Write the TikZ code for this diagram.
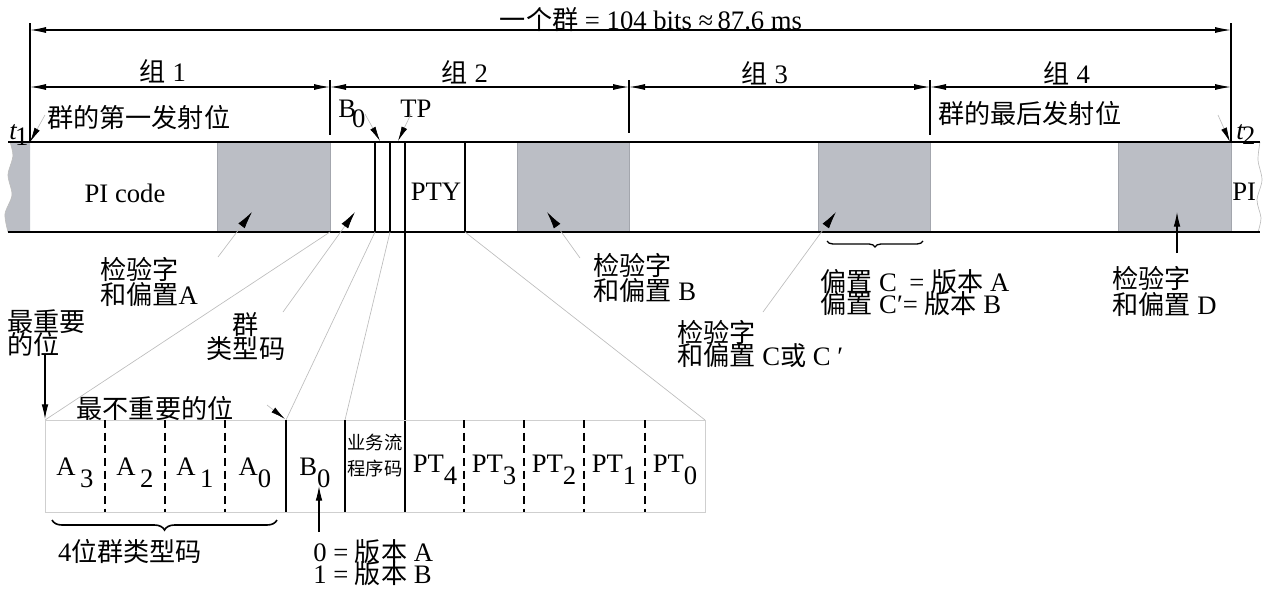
\documentclass[tikz,border=0pt]{standalone}
\usepackage{fontspec}
\setmainfont{Liberation Serif}
\newfontfamily\cjk[Scale=0.98]{Noto Sans CJK SC}
\usetikzlibrary{arrows.meta,decorations.pathreplacing}
\definecolor{boxgray}{HTML}{BBBEC5}
\definecolor{edgegray}{HTML}{A3A6AD}
\definecolor{thingray}{HTML}{BDBDBD}
\definecolor{cellline}{HTML}{CFCFCF}
\newcommand{\zh}[1]{{\cjk #1}}
\newcommand{\dn}[1]{\raisebox{-9pt}{#1}}
\lineskiplimit=-100pt
\lineskip=0pt
\begin{document}
\begin{tikzpicture}[x=0.75pt,y=-0.75pt,
  every node/.style={inner sep=0pt, font=\fontsize{20pt}{18.5pt}\selectfont},
  dim/.style={line width=0.8pt, {Latex[length=12pt,width=4.5pt]}-{Latex[length=12pt,width=4.5pt]}},
  blk/.style={line width=0.8pt},
  thinl/.style={draw=thingray, line width=0.5pt},
  ptr/.style={thinl, -{Latex[length=11pt,width=4.5pt,color=black]}},
  ptrb/.style={thinl, -{Latex[length=13pt,width=6pt,color=black]}},
  barr/.style={line width=0.8pt, -{Latex[length=11pt,width=5pt]}},
  cellt/.style={anchor=base, font=\fontsize{20pt}{22pt}\selectfont},
  grayf/.style={fill=boxgray, draw=edgegray, line width=0.5pt},
  dsh/.style={line width=0.8pt, dash pattern=on 6pt off 3.5pt}
]
\useasboundingbox (0,0) rectangle (1266,590);

% ---------- bar ----------
\fill[boxgray] plot[smooth] coordinates {(10,142) (13,156) (8,175) (12,195) (5,214) (8,232)} -- (30,232) -- (30,142) -- cycle;
\draw[thingray, line width=0.5pt] plot[smooth] coordinates {(10,142) (13,156) (8,175) (12,195) (5,214) (8,232)};
\draw[thingray, line width=0.5pt] plot[smooth] coordinates {(1260,142) (1258,160) (1262,180) (1257,200) (1261,218) (1258,232)};
\draw[grayf] (217,142) rectangle (330,232);
\draw[grayf] (517,142) rectangle (629,232);
\draw[grayf] (818,142) rectangle (930,232);
\draw[grayf] (1118,142) rectangle (1231,232);
\draw[blk] (8,142) -- (1260,142);
\draw[blk] (8,232) -- (1260,232);
\draw[blk] (375,142) -- (375,232);
\draw[blk] (390,142) -- (390,232);
\draw[blk] (405,142) -- (405,512);
\draw[blk] (465,142) -- (465,232);

% ---------- dimension lines ----------
\coordinate (L0) at (30,30);
\coordinate (R0) at (1231,30);
\coordinate (p0) at (30,87);
\coordinate (p1) at (330,87);
\coordinate (p2) at (629,87);
\coordinate (p3) at (930,87);
\coordinate (p4) at (1231,87);
\draw[blk] (30,23) -- (30,142);
\draw[blk] (1231,23) -- (1231,142);
\draw[blk] (330,80) -- (330,135);
\draw[blk] (629,80) -- (629,133);
\draw[blk] (930,80) -- (930,135);
\draw[dim] (L0) -- (R0);
\draw[dim] (p0) -- (p1);
\draw[dim] (p1) -- (p2);
\draw[dim] (p2) -- (p3);
\draw[dim] (p3) -- (p4);
\node[anchor=base] (title) at (651,29) {\zh{一个群} = 104 bits ≈\,87.6 ms};
\node (g1) at (163,71) {\zh{组} 1};
\node (g2) at (465,72) {\zh{组} 2};
\node (g3) at (765,73) {\zh{组} 3};
\node (g4) at (1067,73) {\zh{组} 4};

% ---------- labels near bar ----------
\node[anchor=west] (first) at (47,118) {\zh{群的第一发射位}};
\node[anchor=west] (last) at (938,114) {\zh{群的最后发射位}};
\node[anchor=base west] (t1) at (9,139) {\textit{t}\kern-1.5pt\raisebox{-5pt}{1}};
\node[anchor=base west] (t2) at (1236,139) {\textit{t}\kern-1.5pt\raisebox{-4pt}{2}};
\node[anchor=base west] (b0top) at (338,117) {B\kern-3pt\raisebox{-8pt}{0}};
\node[anchor=base west] (tp) at (400,117) {TP};
\node[anchor=base] (pic) at (125,202) {PI code};
\node[anchor=base] (pty) at (436,200) {PTY};
\node[anchor=base west] (pir) at (1232,200) {PI};

\coordinate (firstT) at (45,115);  \coordinate (firstH) at (30,142);
\coordinate (lastT) at (1218,115); \coordinate (lastH) at (1230,142);
\coordinate (b0T) at (365,114);    \coordinate (b0H) at (380,141);
\coordinate (tpT) at (411,114);    \coordinate (tpH) at (398,141);
\draw[ptr] (firstT) -- (firstH);
\draw[ptr] (lastT) -- (lastH);
\draw[ptr] (b0T) -- (b0H);
\draw[ptr] (tpT) -- (tpH);

% ---------- annotations below bar ----------
\node[anchor=north west, align=left] (ckA) at (100,257) {\zh{检验字}\\\zh{和偏置}A};
\node[anchor=north west, align=left, font=\fontsize{20pt}{17.5pt}\selectfont] (msb) at (7,309) {\zh{最重要}\\\zh{的位}};
\node[anchor=north, align=center] (gtc) at (246,312) {\zh{群}\\\zh{类型码}};
\node[anchor=north west, align=left] (ckB) at (593,253) {\zh{检验字}\\\zh{和偏置} B};
\node[anchor=north west, align=left, font=\fontsize{20pt}{17pt}\selectfont] (offC) at (820,269) {\zh{偏置} C\hphantom{′} = \zh{版本} A\\\zh{偏置} C′= \zh{版本} B};
\node[anchor=north west, align=left, font=\fontsize{20pt}{17pt}\selectfont] (ckC) at (677,320) {\zh{检验字}\\\zh{和偏置} C\zh{或} C ′};
\node[anchor=north west, align=left, font=\fontsize{20pt}{19.5pt}\selectfont] (ckD) at (1112,266) {\zh{检验字}\\\zh{和偏置} D};
\node (lsb) at (155,408) {\zh{最不重要的位}};

\coordinate (ckAT) at (218,257); \coordinate (ckAH) at (252,212);
\coordinate (gtcT) at (283,312); \coordinate (gtcH) at (355,212);
\coordinate (ckBT) at (580,258); \coordinate (ckBH) at (547,212);
\coordinate (ckCT) at (763,312); \coordinate (ckCH) at (836,212);
\coordinate (ckDT) at (1177,253); \coordinate (ckDH) at (1177,212);
\draw[ptrb] (ckAT) -- (ckAH);
\draw[ptrb] (gtcT) -- (gtcH);
\draw[ptrb] (ckBT) -- (ckBH);
\draw[ptrb] (ckCT) -- (ckCH);
\draw[barr] (ckDT) -- (ckDH);
\draw[decorate, decoration={brace, mirror, amplitude=4.5pt}, line width=1pt] (827,241) -- (923,241);

% ---------- projection lines ----------
\draw[thinl] (330,232) -- (45,420);
\draw[thinl] (375,232) -- (286,420);
\draw[thinl] (390,232) -- (345,420);
\draw[thinl] (465,232) -- (705,420);

% ---------- lower box ----------
\draw[cellline, line width=0.7pt] (45,420) rectangle (705,512);
\draw[blk] (286,420) -- (286,512);
\draw[blk] (345,420) -- (345,512);
\foreach \xx in {105,165,225,464,524,584,645} \draw[dsh] (\xx,420) -- (\xx,512);
\node[cellt] (a3) at (75,475) {A\,\dn{3}};
\node[cellt] (a2) at (135,475) {A\,\dn{2}};
\node[cellt] (a1) at (195,475) {A\,\dn{1}};
\node[cellt] (a0) at (255,475) {A\dn{0}};
\node[cellt] (b0) at (315,475) {B\dn{0}};
\node[align=center, font=\fontsize{14pt}{19.5pt}\selectfont] (tpc) at (375,456) {\zh{业务流}\\\zh{程序码}};
\node[cellt] (pt4) at (435,472) {PT\dn{4}};
\node[cellt] (pt3) at (494,472) {PT\dn{3}};
\node[cellt] (pt2) at (554,472) {PT\dn{2}};
\node[cellt] (pt1) at (614,472) {PT\dn{1}};
\node[cellt] (pt0) at (675,472) {PT\dn{0}};

\coordinate (msbT) at (45,355); \coordinate (msbH) at (45,419);
\coordinate (lsbT) at (267,405); \coordinate (lsbH) at (285,419);
\draw[barr] (msbT) -- (msbH);
\draw[ptr] (lsbT) -- (lsbH);

\draw[decorate, decoration={brace, mirror, amplitude=7.5pt}, line width=1.2pt] (52,520) -- (277,520);
\node (gt4) at (130,551) {4\zh{位群类型码}};
\coordinate (verT) at (319,532); \coordinate (verH) at (319,486);
\draw[barr] (verT) -- (verH);
\node[anchor=north west, align=left, font=\fontsize{20pt}{17pt}\selectfont] (ver) at (313,539) {0 = \zh{版本} A\\1 = \zh{版本} B};
\end{tikzpicture}
\end{document}
